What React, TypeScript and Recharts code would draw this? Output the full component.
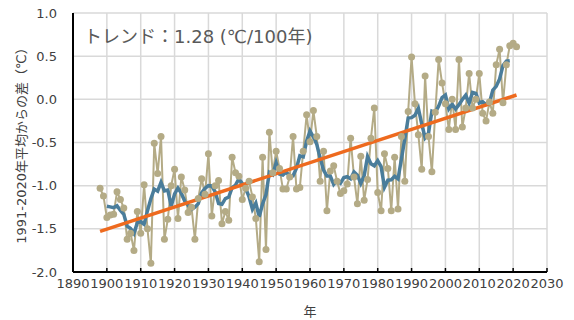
import { CartesianGrid, ComposedChart, Line, XAxis, YAxis } from "recharts";

// annual anomaly vs 1991-2020 mean, Japan, 1898-2021
const firstYear = 1898;
const annual = [
  -1.03, -1.12, -1.37, -1.34, -1.33, -1.07, -1.16, -1.26, -1.62, -1.55,
  -1.75, -1.3, -1.55, -0.99, -1.5, -1.9, -0.51, -0.86, -0.43, -1.62,
  -1.39, -1.0, -0.81, -1.38, -0.9, -1.05, -1.31, -1.25, -1.62, -1.15,
  -0.92, -1.1, -0.63, -1.35, -1.0, -0.94, -1.44, -1.3, -1.4, -0.67,
  -0.85, -0.89, -1.16, -1.03, -0.95, -1.13, -1.38, -1.88, -0.67, -1.74,
  -0.38, -0.85, -0.6, -0.8, -1.04, -1.04, -0.9, -0.43, -1.04, -1.02,
  -0.6, -0.18, -0.49, -0.13, -0.43, -0.95, -0.6, -1.29, -0.83, -0.77,
  -0.95, -1.09, -1.06, -0.98, -0.45, -0.9, -1.21, -0.66, -1.17, -0.93,
  -0.45, -0.1, -1.08, -1.29, -0.63, -0.8, -1.29, -0.67, -1.27, -0.43,
  -0.95, -0.14, 0.49, -0.05, -0.41, -0.81, 0.27, -0.43, -0.84, -0.15,
  0.46, 0.19, -0.05, -0.35, 0.0, -0.35, 0.46, -0.32, -0.1, 0.3,
  -0.1, 0.0, 0.3, -0.16, -0.25, -0.03, -0.16, 0.4, 0.58, -0.04,
  0.4, 0.62, 0.65, 0.61,
];
// trend line end points
const trendYears = [1898, 2021];
const trendValues = [-1.53, 0.05];

const xTicks = [1890, 1900, 1910, 1920, 1930, 1940, 1950, 1960, 1970, 1980, 1990, 2000, 2010, 2020, 2030];
const yTicks = [-2.0, -1.5, -1.0, -0.5, 0.0, 0.5, 1.0];

const years = annual.map((_, i) => firstYear + i);

// 5-year centred running mean of the annual values
const runMean = annual.map((_, i) => {
  if (i < 2 || i > annual.length - 3) return null;
  const s = annual.slice(i - 2, i + 3).reduce((a, b) => a + b, 0);
  return Math.round((s / 5) * 1000) / 1000;
});

const data = years.map((year, i) => {
  const t = trendYears.indexOf(year);
  return {
    year,
    annual: annual[i],
    mean5: runMean[i],
    trend: t >= 0 ? trendValues[t] : null,
  };
});

const font = '"DejaVu Sans", "Noto Sans CJK JP", sans-serif';
const textColor = "#404040";

const XTick = ({ x, y, payload }: any) => (
  <g>
    <line x1={x} x2={x} y1={y - 4} y2={y} stroke="#000" strokeWidth={1.5} />
    <text x={x} y={y + 16} textAnchor="middle" fontSize={13} fill={textColor} fontFamily={font}>
      {payload.value}
    </text>
  </g>
);

const YLabel = ({ viewBox }: any) => {
  const cy = viewBox.y + viewBox.height / 2;
  return (
    <text
      transform={`translate(21, ${cy}) rotate(-90)`}
      textAnchor="middle"
      dominantBaseline="central"
      fontSize={13}
      fill={textColor}
      fontFamily={font}
    >
      1991-2020年平均からの差（℃）
    </text>
  );
};

export default function App() {
  return (
    <div style={{ position: "absolute", left: 0, top: 0, width: 574, height: 320, background: "#fff" }}>
      <ComposedChart
        width={574}
        height={320}
        data={data}
        margin={{ top: 13, right: 27, bottom: 0, left: 0 }}
      >
        <CartesianGrid stroke="#d9d9d9" strokeWidth={1.5} horizontalPoints={undefined} />
        <XAxis
          dataKey="year"
          type="number"
          domain={[1890, 2030]}
          ticks={xTicks}
          interval={0}
          height={48}
          tickSize={0}
          tickMargin={0}
          tickLine={false}
          tick={<XTick />}
          axisLine={{ stroke: "#000", strokeWidth: 2 }}
          label={{
            value: "年",
            position: "insideBottom",
            offset: 4,
            style: { fontSize: 13, fill: textColor, fontFamily: font },
          }}
        />
        <XAxis
          xAxisId="top"
          orientation="top"
          dataKey="year"
          type="number"
          domain={[1890, 2030]}
          ticks={xTicks}
          height={0}
          tick={false}
          tickLine={false}
          axisLine={{ stroke: "#000", strokeWidth: 2 }}
        />
        <YAxis
          type="number"
          domain={[-2, 1]}
          ticks={yTicks}
          interval={0}
          width={73}
          tickLine={false}
          tickMargin={10}
          tickFormatter={(v: number) => v.toFixed(1)}
          tick={{ fontSize: 13, fill: textColor, fontFamily: font }}
          axisLine={{ stroke: "#000", strokeWidth: 2 }}
          label={<YLabel />}
        />
        <YAxis
          yAxisId="right"
          orientation="right"
          type="number"
          domain={[-2, 1]}
          width={0}
          tick={false}
          tickLine={false}
          axisLine={{ stroke: "#000", strokeWidth: 2 }}
        />
        <Line
          dataKey="annual"
          stroke="#b4ab86"
          strokeWidth={2}
          dot={{ r: 3.5, fill: "#b4ab86", stroke: "#b4ab86", strokeWidth: 0 }}
          isAnimationActive={false}
        />
        <Line
          dataKey="mean5"
          stroke="#4a7d9b"
          strokeWidth={3.5}
          dot={false}
          isAnimationActive={false}
        />
        <Line
          dataKey="trend"
          stroke="#ee6a1e"
          strokeWidth={3.5}
          dot={false}
          connectNulls
          isAnimationActive={false}
        />
      </ComposedChart>
      <div
        style={{
          position: "absolute",
          left: 84,
          top: 22,
          fontSize: 18,
          color: "#595959",
          fontFamily: font,
          whiteSpace: "nowrap",
        }}
      >
        トレンド：1.28 (℃/100年)
      </div>
    </div>
  );
}
